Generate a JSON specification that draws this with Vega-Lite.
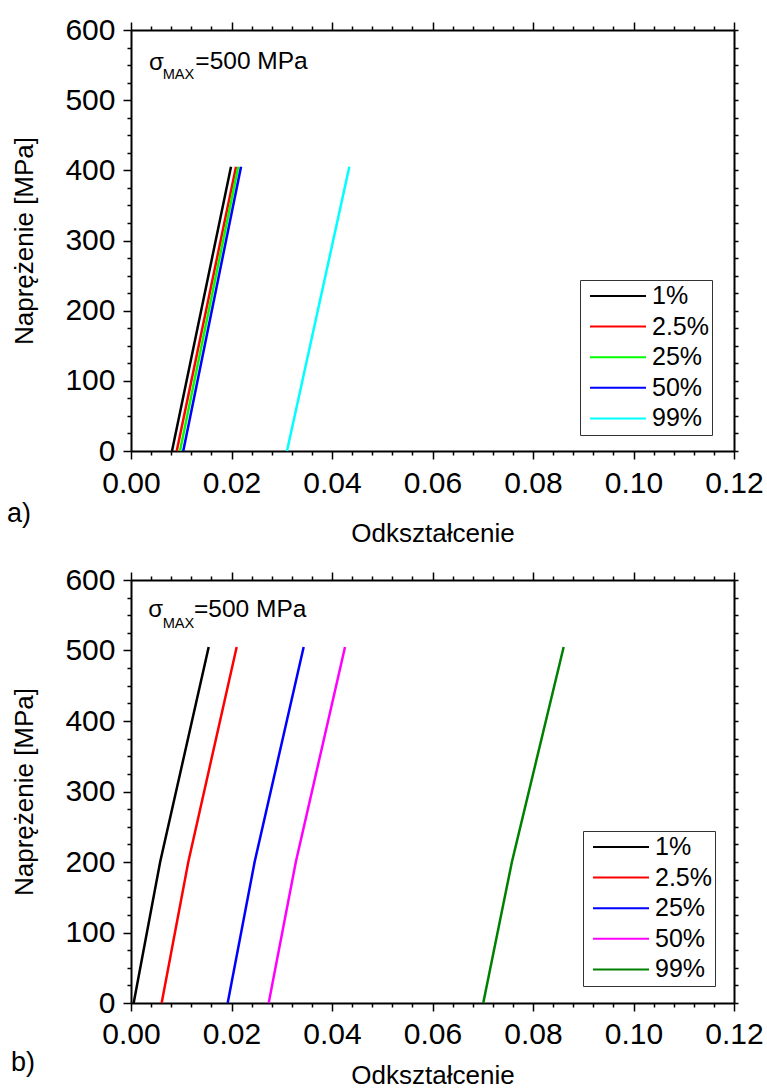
{
  "$schema": "https://vega.github.io/schema/vega-lite/v6.json",
  "padding": {"left": 6, "top": 15, "right": 0, "bottom": 0},
  "datasets": {
    "a": [
      {"s": "1%", "o": 0, "x": 0.00816, "y": 0},
      {"s": "1%", "o": 1, "x": 0.0199, "y": 405},
      {"s": "2.5%", "o": 0, "x": 0.0091, "y": 0},
      {"s": "2.5%", "o": 1, "x": 0.0209, "y": 405},
      {"s": "25%", "o": 0, "x": 0.00975, "y": 0},
      {"s": "25%", "o": 1, "x": 0.02135, "y": 405},
      {"s": "50%", "o": 0, "x": 0.0104, "y": 0},
      {"s": "50%", "o": 1, "x": 0.0219, "y": 405},
      {"s": "99%", "o": 0, "x": 0.03104, "y": 0},
      {"s": "99%", "o": 1, "x": 0.04345, "y": 405}
    ],
    "b": [
      {"s": "1%", "o": 0, "x": 0.00053, "y": 0},
      {"s": "1%", "o": 1, "x": 0.0058, "y": 200},
      {"s": "1%", "o": 2, "x": 0.01546, "y": 505},
      {"s": "2.5%", "o": 0, "x": 0.0061, "y": 0},
      {"s": "2.5%", "o": 1, "x": 0.0114, "y": 200},
      {"s": "2.5%", "o": 2, "x": 0.02103, "y": 505},
      {"s": "25%", "o": 0, "x": 0.01924, "y": 0},
      {"s": "25%", "o": 1, "x": 0.0246, "y": 200},
      {"s": "25%", "o": 2, "x": 0.03436, "y": 505},
      {"s": "50%", "o": 0, "x": 0.0274, "y": 0},
      {"s": "50%", "o": 1, "x": 0.0328, "y": 200},
      {"s": "50%", "o": 2, "x": 0.04259, "y": 505},
      {"s": "99%", "o": 0, "x": 0.0701, "y": 0},
      {"s": "99%", "o": 1, "x": 0.0758, "y": 200},
      {"s": "99%", "o": 2, "x": 0.0861, "y": 505}
    ]
  },
  "vconcat": [
    {
      "width": 603,
      "height": 421,
      "layer": [
        {
          "data": {"name": "a"},
          "mark": {"type": "line", "strokeWidth": 2.5},
          "encoding": {
            "x": {"field": "x", "type": "quantitative", "scale": {"domain": [0, 0.12], "nice": false},
              "axis": {"orient": "bottom", "title": "Odkształcenie", "titlePadding": 22,
                "values": [0,0.004,0.008,0.012,0.016,0.02,0.024,0.028,0.032,0.036,0.04,0.044,0.048,0.052,0.056,0.06,0.064,0.068,0.072,0.076,0.08,0.084,0.088,0.092,0.096,0.1,0.104,0.108,0.112,0.116,0.12],
                "labelExpr": "abs(datum.value*50 - round(datum.value*50)) < 0.01 ? format(datum.value, '.2f') : ''",
                "tickSize": {"condition": {"test": "abs(datum.value*50 - round(datum.value*50)) < 0.01", "value": 8}, "value": 4},
                "labelPadding": 9}},
            "y": {"field": "y", "type": "quantitative", "scale": {"domain": [0, 600], "nice": false},
              "axis": {"orient": "left", "title": "Naprężenie [MPa]", "titlePadding": 27,
                "values": [0,25,50,75,100,125,150,175,200,225,250,275,300,325,350,375,400,425,450,475,500,525,550,575,600],
                "labelExpr": "datum.value % 100 === 0 ? datum.label : ''",
                "tickSize": {"condition": {"test": "datum.value % 100 === 0", "value": 8}, "value": 4},
                "labelPadding": 8}},
            "color": {"field": "s", "type": "nominal",
              "scale": {"domain": ["1%", "2.5%", "25%", "50%", "99%"], "range": ["#000000", "#ff0000", "#00ff00", "#0000ff", "#00ffff"]},
              "legend": {"orient": "none", "legendX": 449, "legendY": 250, "title": null, "symbolType": "stroke", "symbolSize": 3136, "symbolStrokeWidth": 2, "labelFontSize": 25, "labelColor": "black", "labelOffset": 5, "strokeColor": "#333333", "fillColor": "white", "padding": 3, "symbolOffset": 6, "rowPadding": 4.6, "clipHeight": 26}},
            "order": {"field": "o", "type": "quantitative"}
          }
        },
        {
          "data": {"name": "a"},
          "mark": {"type": "point", "opacity": 0},
          "encoding": {
            "x": {"field": "x", "type": "quantitative",
              "axis": {"orient": "top", "title": null, "labels": false,
                "values": [0,0.004,0.008,0.012,0.016,0.02,0.024,0.028,0.032,0.036,0.04,0.044,0.048,0.052,0.056,0.06,0.064,0.068,0.072,0.076,0.08,0.084,0.088,0.092,0.096,0.1,0.104,0.108,0.112,0.116,0.12],
                "tickSize": {"condition": {"test": "abs(datum.value*50 - round(datum.value*50)) < 0.01", "value": 8}, "value": 4}}},
            "y": {"field": "y", "type": "quantitative",
              "axis": {"orient": "right", "title": null, "labels": false,
                "values": [0,25,50,75,100,125,150,175,200,225,250,275,300,325,350,375,400,425,450,475,500,525,550,575,600],
                "tickSize": 4}}
          }
        },
        {
          "data": {"values": [{"x": 0.00358, "y": 543}]},
          "mark": {"type": "text", "align": "left", "baseline": "alphabetic", "fontSize": 24, "color": "black"},
          "encoding": {"x": {"field": "x", "type": "quantitative", "axis": null}, "y": {"field": "y", "type": "quantitative", "axis": null}, "text": {"value": "σ"}}
        },
        {
          "data": {"values": [{"x": 0.00631, "y": 529.7}]},
          "mark": {"type": "text", "align": "left", "baseline": "alphabetic", "fontSize": 14.6, "color": "black"},
          "encoding": {"x": {"field": "x", "type": "quantitative", "axis": null}, "y": {"field": "y", "type": "quantitative", "axis": null}, "text": {"value": "MAX"}}
        },
        {
          "data": {"values": [{"x": 0.0128, "y": 544}]},
          "mark": {"type": "text", "align": "left", "baseline": "alphabetic", "fontSize": 24.5, "color": "black"},
          "encoding": {"x": {"field": "x", "type": "quantitative", "axis": null}, "y": {"field": "y", "type": "quantitative", "axis": null}, "text": {"value": "=500 MPa"}}
        },
        {
          "data": {"values": [{"x": -0.02468, "y": -101.2}]},
          "mark": {"type": "text", "align": "left", "baseline": "alphabetic", "fontSize": 27, "color": "black"},
          "encoding": {"x": {"field": "x", "type": "quantitative", "axis": null}, "y": {"field": "y", "type": "quantitative", "axis": null}, "text": {"value": "a)"}}
        }
      ],
      "resolve": {"axis": {"x": "independent", "y": "independent"}}
    },
    {
      "width": 603,
      "height": 423,
      "layer": [
        {
          "data": {"name": "b"},
          "mark": {"type": "line", "strokeWidth": 2.5},
          "encoding": {
            "x": {"field": "x", "type": "quantitative", "scale": {"domain": [0, 0.12], "nice": false},
              "axis": {"orient": "bottom", "title": "Odkształcenie", "titlePadding": 13,
                "values": [0,0.004,0.008,0.012,0.016,0.02,0.024,0.028,0.032,0.036,0.04,0.044,0.048,0.052,0.056,0.06,0.064,0.068,0.072,0.076,0.08,0.084,0.088,0.092,0.096,0.1,0.104,0.108,0.112,0.116,0.12],
                "labelExpr": "abs(datum.value*50 - round(datum.value*50)) < 0.01 ? format(datum.value, '.2f') : ''",
                "tickSize": {"condition": {"test": "abs(datum.value*50 - round(datum.value*50)) < 0.01", "value": 8}, "value": 4},
                "labelPadding": 8}},
            "y": {"field": "y", "type": "quantitative", "scale": {"domain": [0, 600], "nice": false},
              "axis": {"orient": "left", "title": "Naprężenie [MPa]", "titlePadding": 27,
                "values": [0,25,50,75,100,125,150,175,200,225,250,275,300,325,350,375,400,425,450,475,500,525,550,575,600],
                "labelExpr": "datum.value % 100 === 0 ? datum.label : ''",
                "tickSize": {"condition": {"test": "datum.value % 100 === 0", "value": 8}, "value": 4},
                "labelPadding": 8}},
            "color": {"field": "s", "type": "nominal",
              "scale": {"domain": ["1%", "2.5%", "25%", "50%", "99%"], "range": ["#000000", "#ff0000", "#0000ff", "#ff00ff", "#008000"]},
              "legend": {"orient": "none", "legendX": 452, "legendY": 251, "title": null, "symbolType": "stroke", "symbolSize": 3136, "symbolStrokeWidth": 2, "labelFontSize": 25, "labelColor": "black", "labelOffset": 5, "strokeColor": "#333333", "fillColor": "white", "padding": 3, "symbolOffset": 6, "rowPadding": 4.6, "clipHeight": 26}},
            "order": {"field": "o", "type": "quantitative"}
          }
        },
        {
          "data": {"name": "b"},
          "mark": {"type": "point", "opacity": 0},
          "encoding": {
            "x": {"field": "x", "type": "quantitative",
              "axis": {"orient": "top", "title": null, "labels": false,
                "values": [0,0.004,0.008,0.012,0.016,0.02,0.024,0.028,0.032,0.036,0.04,0.044,0.048,0.052,0.056,0.06,0.064,0.068,0.072,0.076,0.08,0.084,0.088,0.092,0.096,0.1,0.104,0.108,0.112,0.116,0.12],
                "tickSize": {"condition": {"test": "abs(datum.value*50 - round(datum.value*50)) < 0.01", "value": 8}, "value": 4}}},
            "y": {"field": "y", "type": "quantitative",
              "axis": {"orient": "right", "title": null, "labels": false,
                "values": [0,25,50,75,100,125,150,175,200,225,250,275,300,325,350,375,400,425,450,475,500,525,550,575,600],
                "tickSize": 4}}
          }
        },
        {
          "data": {"values": [{"x": 0.00344, "y": 547}]},
          "mark": {"type": "text", "align": "left", "baseline": "alphabetic", "fontSize": 24, "color": "black"},
          "encoding": {"x": {"field": "x", "type": "quantitative", "axis": null}, "y": {"field": "y", "type": "quantitative", "axis": null}, "text": {"value": "σ"}}
        },
        {
          "data": {"values": [{"x": 0.00631, "y": 532.3}]},
          "mark": {"type": "text", "align": "left", "baseline": "alphabetic", "fontSize": 14.6, "color": "black"},
          "encoding": {"x": {"field": "x", "type": "quantitative", "axis": null}, "y": {"field": "y", "type": "quantitative", "axis": null}, "text": {"value": "MAX"}}
        },
        {
          "data": {"values": [{"x": 0.01254, "y": 547.5}]},
          "mark": {"type": "text", "align": "left", "baseline": "alphabetic", "fontSize": 24.5, "color": "black"},
          "encoding": {"x": {"field": "x", "type": "quantitative", "axis": null}, "y": {"field": "y", "type": "quantitative", "axis": null}, "text": {"value": "=500 MPa"}}
        },
        {
          "data": {"values": [{"x": -0.02388, "y": -96.5}]},
          "mark": {"type": "text", "align": "left", "baseline": "alphabetic", "fontSize": 27, "color": "black"},
          "encoding": {"x": {"field": "x", "type": "quantitative", "axis": null}, "y": {"field": "y", "type": "quantitative", "axis": null}, "text": {"value": "b)"}}
        }
      ],
      "resolve": {"axis": {"x": "independent", "y": "independent"}}
    }
  ],
  "spacing": 19,
  "resolve": {"scale": {"color": "independent", "x": "independent", "y": "independent"}, "legend": {"color": "independent"}},
  "config": {
    "font": "Liberation Sans",
    "view": {"stroke": null},
    "axis": {"domainColor": "black", "domainWidth": 2, "tickColor": "black", "tickWidth": 1.5, "grid": false,
      "labelFontSize": 30, "labelColor": "black", "labelFont": "Liberation Sans", "labelFlush": false, "labelOverlap": false,
      "titleFontSize": 26, "titleFontWeight": "normal", "titleColor": "black", "titleFont": "Liberation Sans"},
    "legend": {"labelFont": "Liberation Sans"},
    "text": {"font": "Liberation Sans"}
  }
}
